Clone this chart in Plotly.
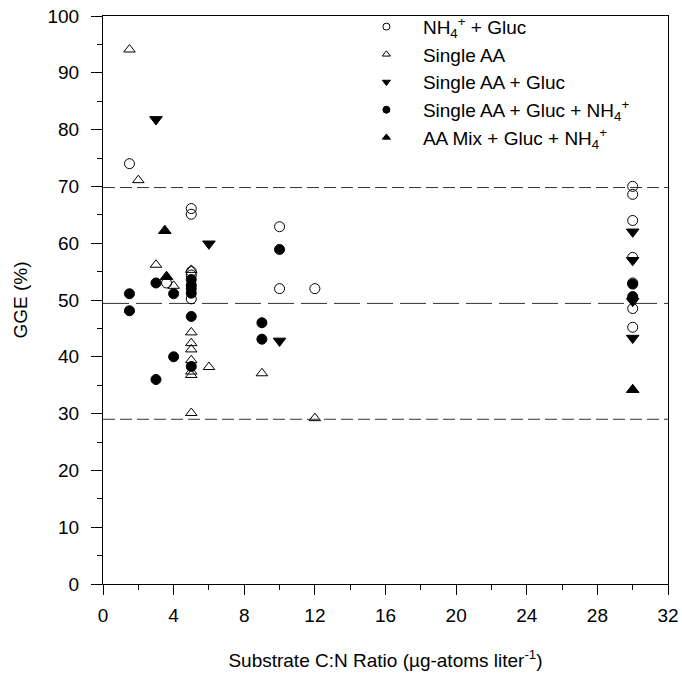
import plotly.graph_objects as go

# Growth efficiency (GGE, %) versus substrate C:N ratio, by substrate treatment
nh4_gluc_x = [1.5, 3.6, 5, 5, 5, 5, 5, 10, 10, 12, 30, 30, 30, 30, 30, 30, 30, 30]
nh4_gluc_y = [74, 53, 66.1, 65.1, 55, 54.4, 50.2, 62.9, 52, 52, 70, 68.6, 64, 57.5, 53, 50.3, 48.5, 45.2]

single_aa_x = [1.5, 2, 3, 4, 5, 5, 5, 5, 5, 5, 5, 5, 6, 9, 12]
single_aa_y = [94.1, 71.1, 56.2, 52.5, 55.3, 44.3, 42.4, 41.3, 39.4, 37.4, 36.8, 30.1, 38.2, 37.1, 29.2]

single_aa_gluc_x = [3, 6, 10, 30, 30, 30, 30]
single_aa_gluc_y = [81.8, 59.9, 42.8, 62, 57, 49.8, 43.3]

single_aa_gluc_nh4_x = [1.5, 1.5, 3, 3, 4, 4, 5, 5, 5, 5, 5, 5, 9, 9, 10, 30, 30]
single_aa_gluc_nh4_y = [51.1, 48.1, 53, 36, 51.1, 40, 53.6, 52.6, 52, 51.2, 47.1, 38.3, 46, 43.1, 58.9, 52.8, 50.6]

aa_mix_x = [3.5, 3.6, 30]
aa_mix_y = [62.2, 54.1, 34.2]

# reference levels (mean and +/- bounds)
ref_levels = [69.8, 49.4, 29.0]
ref_dashes = ["12px,5px", "26px,7px", "12px,5px"]

x_ticks = [0, 4, 8, 12, 16, 20, 24, 28, 32]
y_ticks = [0, 10, 20, 30, 40, 50, 60, 70, 80, 90, 100]

series = [
    ("NH<sub>4</sub><sup>+</sup> + Gluc", nh4_gluc_x, nh4_gluc_y, "circle-open", 10),
    ("Single AA", single_aa_x, single_aa_y, "triangle-up-open", 10),
    ("Single AA + Gluc", single_aa_gluc_x, single_aa_gluc_y, "triangle-down", 11),
    ("Single AA + Gluc + NH<sub>4</sub><sup>+</sup>", single_aa_gluc_nh4_x, single_aa_gluc_nh4_y, "circle", 10),
    ("AA Mix + Gluc + NH<sub>4</sub><sup>+</sup>", aa_mix_x, aa_mix_y, "triangle-up", 11),
]

FONT = "Liberation Sans, Arial, sans-serif"

fig = go.Figure()

for name, xs, ys, sym, sz in series:
    fig.add_trace(go.Scatter(
        x=xs, y=ys, mode="markers", name=name, showlegend=False,
        marker=dict(symbol=sym, size=sz, color="black",
                    line=dict(color="black", width=1)),
        cliponaxis=False,
    ))

# smaller symbols for the legend entries
for name, xs, ys, sym, sz in series:
    fig.add_trace(go.Scatter(
        x=[None], y=[None], mode="markers", name=name, showlegend=True,
        marker=dict(symbol=sym, size=7, color="black",
                    line=dict(color="black", width=1)),
    ))

for lvl, dash in zip(ref_levels, ref_dashes):
    fig.add_shape(type="line", xref="x", yref="y", x0=0, x1=32, y0=lvl, y1=lvl,
                  line=dict(color="#333333", width=1, dash=dash), layer="below")

fig.update_layout(
    width=682, height=686,
    margin=dict(l=103, r=14, t=16, b=102, autoexpand=False),
    paper_bgcolor="white", plot_bgcolor="white",
    font=dict(family=FONT, size=19, color="black"),
    legend=dict(x=0.437, y=1.0145, xanchor="left", yanchor="top",
                bgcolor="rgba(0,0,0,0)", borderwidth=0,
                font=dict(family=FONT, size=19), itemwidth=63,
                tracegroupgap=0),
    xaxis=dict(range=[0, 32], tickvals=x_ticks, ticks="outside", ticklen=10,
               tickcolor="black", showline=True, linecolor="black", linewidth=1,
               mirror=True, showgrid=False, zeroline=False,
               minor=dict(dtick=2, ticks="outside", ticklen=5, tickcolor="black"),
               ticklabelstandoff=4,
               title=dict(text="Substrate C:N Ratio (µg-atoms liter<sup>-1</sup>)",
                          standoff=28, font=dict(size=19)),
               tickfont=dict(size=19)),
    yaxis=dict(range=[0, 100], tickvals=y_ticks, ticks="outside", ticklen=11,
               tickcolor="black", showline=True, linecolor="black", linewidth=1,
               mirror=True, showgrid=False, zeroline=False,
               minor=dict(dtick=5, ticks="outside", ticklen=5, tickcolor="black"),
               ticklabelstandoff=8,
               title=dict(text="GGE (%)", standoff=14, font=dict(size=19)),
               tickfont=dict(size=19)),
)

fig.write_html("out.html")
